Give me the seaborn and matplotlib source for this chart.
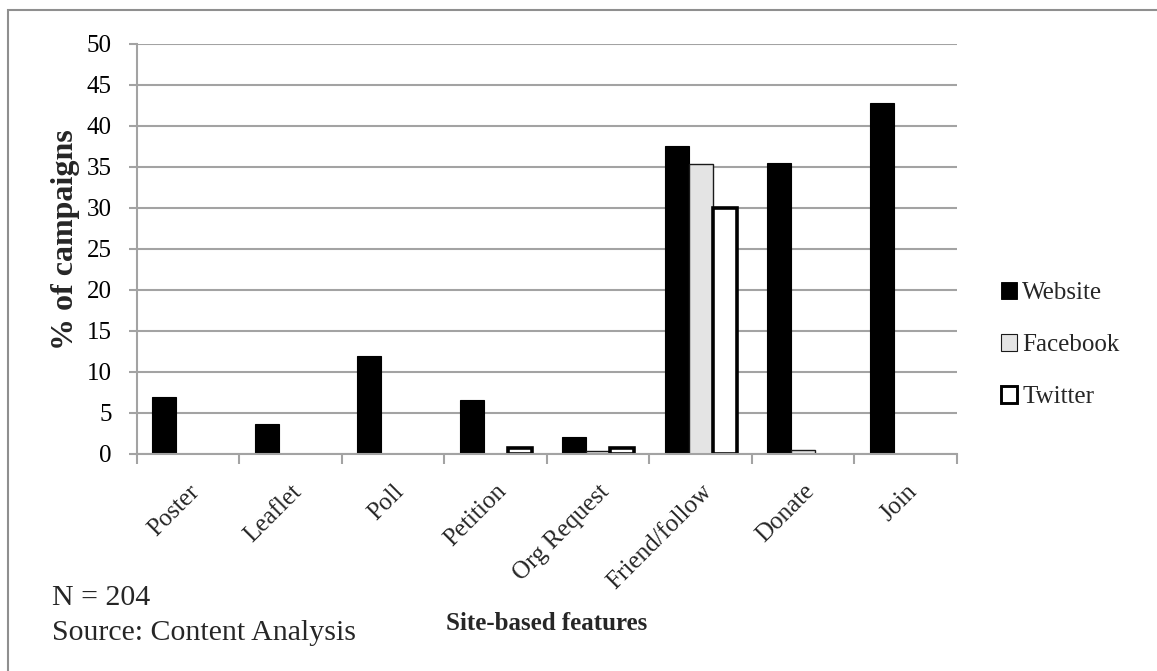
import pandas as pd
import matplotlib.pyplot as plt
import matplotlib.patches as mpatches
import seaborn as sns
import numpy as np

sns.set_theme(style="white")
plt.rcParams['font.family'] = ['Liberation Serif', 'DejaVu Serif']

# Values (% of campaigns)
categories = ['Poster', 'Leaflet', 'Poll', 'Petition', 'Org Request',
              'Friend/follow', 'Donate', 'Join']
channels = ['Website', 'Facebook', 'Twitter']
website = [7.0, 3.6, 11.9, 6.6, 2.1, 37.5, 35.4, 42.8]
facebook = [0, 0, 0, 0, 0.4, 35.3, 0.5, 0]
twitter = [0, 0, 0, 0.7, 0.7, 30.0, 0, 0]

df = pd.DataFrame({
    'Feature': categories * 3,
    'Channel': [c for c in channels for _ in categories],
    'Percent': website + facebook + twitter,
})

fill = {'Website': '#000000', 'Facebook': '#e4e4e4', 'Twitter': '#ffffff'}
edge = {'Website': '#000000', 'Facebook': '#1a1a1a', 'Twitter': '#000000'}
lw = {'Website': 0.8, 'Facebook': 1.0, 'Twitter': 2.6}
grey = '#a3a3a3'

fig = plt.figure(figsize=(11.57, 6.71), dpi=100)
ax = fig.add_axes([0.1184, 0.3234, 0.7086, 0.6116])

sns.barplot(data=df, x='Feature', y='Percent', hue='Channel',
            hue_order=channels, order=categories, palette=fill,
            saturation=1, width=0.7, gap=0, legend=False, ax=ax)

# style each series, hide the empty (zero) bars
for container, ch in zip(ax.containers, channels):
    for bar in container:
        bar.set_edgecolor(edge[ch])
        bar.set_linewidth(lw[ch])
        if bar.get_height() == 0:
            bar.set_visible(False)

ax.set_xlim(-0.5, len(categories) - 0.5)
ax.set_ylim(0, 50)
ax.set_yticks(np.arange(0, 51, 5))
ax.yaxis.grid(True, color=grey, linewidth=1.5)
ax.set_axisbelow(True)

for side in ['top', 'right']:
    ax.spines[side].set_visible(False)
for side in ['left', 'bottom']:
    ax.spines[side].set_color(grey)
    ax.spines[side].set_linewidth(1.5)

ax.tick_params(axis='y', left=True, length=6, width=1.5, color=grey,
               pad=12, labelsize=18, labelcolor='black')
ax.set_xticks(range(len(categories)))
ax.set_xticklabels(categories, rotation=45, ha='right', va='top',
                   rotation_mode='anchor', fontsize=18)
ax.tick_params(axis='x', which='major', length=0, pad=19)
ax.set_xticks(np.arange(-0.5, len(categories), 1), minor=True)
ax.tick_params(axis='x', which='minor', bottom=True, length=7, width=1.5,
               color=grey)

ax.set_xlabel('')
ax.set_ylabel('')
fig.text(66 / 1157, 1 - 240 / 671, '% of campaigns', fontsize=23,
         fontweight='bold', rotation=90, ha='center', va='center')
fig.text(0.4728, 1 - 624 / 671, 'Site-based features', fontsize=18,
         fontweight='bold', ha='center', va='center')

fig.text(52 / 1157, 1 - 605 / 671, 'N = 204', fontsize=21.5, va='baseline')
fig.text(52 / 1157, 1 - 640 / 671, 'Source: Content Analysis', fontsize=21.5,
         va='baseline')

handles = [mpatches.Patch(facecolor=fill[c], edgecolor=edge[c],
                          linewidth=lw[c] * 0.8, label=c) for c in channels]
fig.legend(handles=handles, loc='center left',
           bbox_to_anchor=(991 / 1157, 1 - 345 / 671), frameon=False,
           fontsize=18, handlelength=0.65, handleheight=0.65,
           handletextpad=0.2, labelspacing=1.2, borderaxespad=0)

# grey frame (only the top and left edges fall inside the picture)
fig.patches.append(mpatches.Rectangle((8 / 1157, -0.2), 1.2, 1.2 - 10 / 671,
                                      transform=fig.transFigure, fill=False,
                                      edgecolor='#8f8f8f', linewidth=1.5))

plt.savefig('out.png', dpi=100)
